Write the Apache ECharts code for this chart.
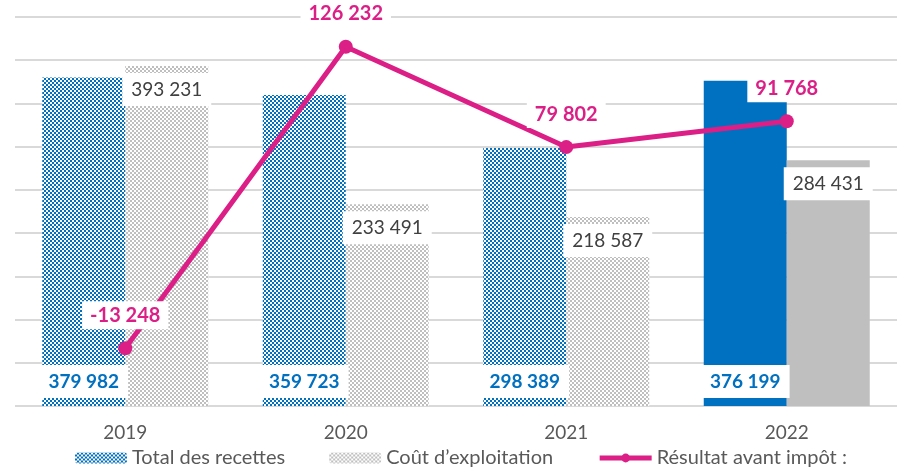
<!DOCTYPE html>
<html>
<head>
<meta charset="utf-8">
<script src="https://cdn.jsdelivr.net/npm/echarts@6/dist/echarts.min.js"></script>
<style>
html,body{margin:0;padding:0;background:#fff;}
#chart{width:897px;height:469px;}
</style>
</head>
<body>
<div id="chart"></div>
<script>
const categories = ['2019', '2020', '2021', '2022'];
const recettes = [379982, 359723, 298389, 376199];
const couts = [393231, 233491, 218587, 284431];
const resultat = [-13248, 126232, 79802, 91768];
const seriesNames = ['Total des recettes', 'Coût d’exploitation', 'Résultat avant impôt :'];

const FONT = 'Lato';
const BLUE = '#0070C0';
const GREY = '#BFBFBF';
const MAGENTA = '#DC1F86';

function makePattern(color) {
  const c = document.createElement('canvas');
  c.width = 4; c.height = 4;
  const ctx = c.getContext('2d');
  ctx.fillStyle = color;
  ctx.fillRect(0, 0, 4, 4);
  ctx.fillStyle = '#ffffff';
  ctx.fillRect(0, 0, 2, 2);
  ctx.fillRect(2, 2, 2, 2);
  return { image: c, repeat: 'repeat' };
}
const bluePat = makePattern(BLUE);
const greyPat = makePattern(GREY);

function fmt(v) {
  const s = Math.abs(v).toString().replace(/\B(?=(\d{3})+(?!\d))/g, ' ');
  return (v < 0 ? '-' : '') + s;
}

const chart = echarts.init(document.getElementById('chart'), null, { renderer: 'canvas' });

const recData = recettes.map((v, i) => i === 3 ? { value: v, itemStyle: { color: BLUE } } : v);
const coutData = couts.map((v, i) => i === 3 ? { value: v, itemStyle: { color: GREY } } : v);

chart.setOption({
  animation: false,
  textStyle: { fontFamily: FONT },
  grid: { left: 15, top: 17, width: 888, height: 389, containLabel: false },
  legend: {
    left: 70, top: 443,
    itemWidth: 52, itemHeight: 11, itemGap: 44,
    lineStyle: { width: 5 },
    textStyle: { fontFamily: FONT, fontSize: 20, color: '#595959' },
    data: seriesNames
  },
  xAxis: {
    type: 'category', data: categories,
    axisLine: { show: false }, axisTick: { show: false },
    axisLabel: { fontFamily: FONT, fontSize: 19, color: '#595959', margin: 17 }
  },
  yAxis: [
    {
      type: 'value', min: 0, max: 450000, interval: 50000,
      axisLabel: { show: false }, axisLine: { show: false }, axisTick: { show: false },
      splitLine: { lineStyle: { color: '#D9D9D9', width: 2 } }
    },
    {
      type: 'value', min: -40000, max: 140000, interval: 20000,
      axisLabel: { show: false }, axisLine: { show: false }, axisTick: { show: false },
      splitLine: { show: false }
    }
  ],
  series: [
    {
      name: seriesNames[0], type: 'bar', data: recData, barWidth: 83, barGap: '0%',
      itemStyle: { color: bluePat },
      label: {
        show: true, position: 'insideBottom', distance: 8,
        formatter: p => fmt(p.value),
        fontFamily: FONT, fontSize: 19, fontWeight: 'bold', color: BLUE,
        backgroundColor: '#fff', padding: [7, 9], lineHeight: 19
      }
    },
    {
      name: seriesNames[1], type: 'bar', data: coutData, barWidth: 83, barGap: '0%',
      itemStyle: { color: greyPat },
      label: {
        show: true, position: 'insideTop', distance: 7,
        formatter: p => fmt(p.value),
        fontFamily: FONT, fontSize: 19, color: '#404040',
        backgroundColor: '#fff', padding: [7, 9], lineHeight: 19
      }
    },
    {
      name: seriesNames[2], type: 'line', yAxisIndex: 1, data: resultat,
      symbol: 'circle', symbolSize: 14,
      lineStyle: { color: MAGENTA, width: 5 },
      itemStyle: { color: MAGENTA },
      z: 5,
      label: {
        show: true, position: 'top', distance: 12,
        formatter: p => fmt(p.value),
        fontFamily: FONT, fontSize: 20, fontWeight: 'bold', color: MAGENTA,
        backgroundColor: '#fff', padding: [4, 8], lineHeight: 20
      }
    }
  ]
});
</script>
</body>
</html>
